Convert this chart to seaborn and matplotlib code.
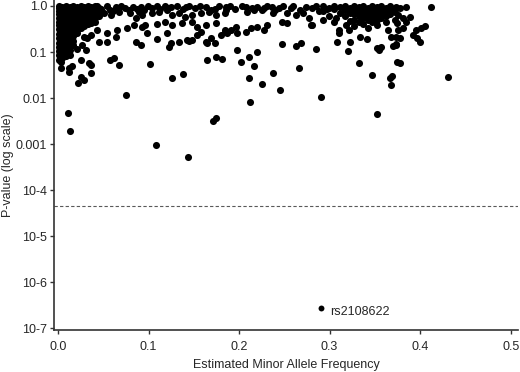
import numpy as np
import pandas as pd
import matplotlib
matplotlib.use('Agg')
import matplotlib.pyplot as plt
from matplotlib.ticker import FixedLocator, NullLocator
import seaborn as sns

# (minor allele frequency, p-value), grouped by region
low_maf_block = [
    (0.001, 1.0), (0.001, 0.9), (0.001, 0.78), (0.001, 0.66), (0.001, 0.55), (0.001, 0.46), (0.001, 0.38),
    (0.001, 0.31), (0.001, 0.25), (0.001, 0.2), (0.001, 0.16), (0.001, 0.13), (0.001, 0.105), (0.001, 0.085),
    (0.001, 0.067),
    (0.005, 0.97), (0.005, 0.84), (0.005, 0.71), (0.005, 0.6), (0.005, 0.5), (0.005, 0.42), (0.005, 0.34),
    (0.005, 0.28), (0.005, 0.22), (0.005, 0.18), (0.005, 0.145), (0.005, 0.115), (0.005, 0.092), (0.005, 0.075),
    (0.009, 1.0), (0.009, 0.88), (0.009, 0.75), (0.009, 0.63), (0.009, 0.53), (0.009, 0.44), (0.009, 0.36),
    (0.009, 0.29), (0.009, 0.24), (0.009, 0.19), (0.009, 0.15), (0.009, 0.12), (0.009, 0.098), (0.009, 0.08),
    (0.013, 0.95), (0.013, 0.8), (0.013, 0.68), (0.013, 0.57), (0.013, 0.47), (0.013, 0.39), (0.013, 0.32),
    (0.013, 0.26), (0.013, 0.21), (0.013, 0.17), (0.013, 0.135), (0.013, 0.11), (0.013, 0.088),
    (0.017, 1.0), (0.017, 0.86), (0.017, 0.72), (0.017, 0.6), (0.017, 0.5), (0.017, 0.41), (0.017, 0.33),
    (0.017, 0.27), (0.017, 0.22), (0.017, 0.175), (0.017, 0.14),
    (0.021, 0.93), (0.021, 0.79), (0.021, 0.66), (0.021, 0.55), (0.021, 0.45), (0.021, 0.37), (0.021, 0.3),
    (0.021, 0.26),
    (0.025, 1.0), (0.025, 0.85), (0.025, 0.7), (0.025, 0.58), (0.025, 0.48), (0.025, 0.4), (0.025, 0.33),
    (0.029, 0.95), (0.029, 0.8), (0.029, 0.66), (0.029, 0.54), (0.029, 0.44), (0.029, 0.36), (0.029, 0.21),
    (0.033, 1.0), (0.033, 0.87), (0.033, 0.72), (0.033, 0.6), (0.033, 0.5), (0.033, 0.4), (0.032, 0.2),
    (0.037, 0.93), (0.037, 0.78), (0.037, 0.64), (0.037, 0.52), (0.037, 0.42), (0.036, 0.23),
    (0.041, 1.0), (0.041, 0.85), (0.041, 0.7), (0.041, 0.56), (0.041, 0.45),
    (0.045, 0.92), (0.045, 0.78), (0.045, 0.62),
]

low_maf_tail = [
    (0.021, 0.116), (0.027, 0.14), (0.031, 0.11), (0.025, 0.067), (0.034, 0.058), (0.036, 0.052),
    (0.037, 0.035), (0.025, 0.029), (0.029, 0.025), (0.022, 0.021), (0.003, 0.061), (0.003, 0.045),
    (0.012, 0.045), (0.012, 0.037), (0.015, 0.05), (0.045, 0.165), (0.054, 0.165), (0.064, 0.21),
    (0.043, 0.30), (0.054, 0.26), (0.065, 0.30), (0.076, 0.33), (0.084, 0.39), (0.093, 0.35),
    (0.086, 0.165), (0.092, 0.14), (0.062, 0.074), (0.067, 0.052), (0.058, 0.067), (0.102, 0.056),
]

maf_05_10 = [
    (0.043, 1.0), (0.054, 1.0), (0.064, 0.95), (0.070, 1.0), (0.078, 0.82), (0.087, 0.86), (0.092, 0.95),
    (0.051, 0.70), (0.059, 0.64), (0.086, 0.55), (0.047, 0.85), (0.057, 0.82), (0.061, 0.78), (0.074, 0.9),
    (0.083, 0.95), (0.067, 0.74), (0.080, 0.70), (0.089, 0.74), (0.095, 0.82),
]

maf_10_19 = [
    (0.099, 1.0), (0.109, 1.0), (0.118, 1.0), (0.125, 0.95), (0.132, 1.0), (0.145, 1.0), (0.151, 0.9),
    (0.164, 0.95), (0.169, 0.82), (0.178, 1.0), (0.186, 0.95),
    (0.104, 0.92), (0.113, 0.86), (0.122, 0.9), (0.138, 0.86), (0.141, 0.95), (0.157, 1.0), (0.173, 0.88),
    (0.093, 0.64), (0.104, 0.70), (0.112, 0.74), (0.120, 0.82), (0.126, 0.64), (0.134, 0.70), (0.140, 0.58),
    (0.148, 0.64), (0.158, 0.70), (0.167, 0.74), (0.175, 0.64), (0.184, 0.70),
    (0.096, 0.39), (0.109, 0.41), (0.118, 0.45), (0.126, 0.39), (0.137, 0.43), (0.148, 0.45), (0.154, 0.35),
    (0.164, 0.39), (0.175, 0.43), (0.184, 0.30),
    (0.098, 0.26), (0.109, 0.19), (0.120, 0.26), (0.125, 0.155), (0.134, 0.165), (0.143, 0.18),
    (0.153, 0.23), (0.158, 0.27), (0.164, 0.165), (0.169, 0.20), (0.180, 0.23), (0.187, 0.27),
    (0.123, 0.13), (0.145, 0.175), (0.148, 0.18), (0.165, 0.155), (0.173, 0.155),
    (0.165, 0.067), (0.175, 0.078), (0.181, 0.07), (0.138, 0.033), (0.126, 0.027),
]

maf_19_29 = [
    (0.186, 0.82), (0.203, 1.0), (0.209, 0.74), (0.214, 0.9), (0.220, 0.95), (0.225, 0.82), (0.231, 1.0),
    (0.238, 0.70), (0.244, 0.9), (0.249, 1.0), (0.253, 0.70), (0.263, 0.64), (0.271, 0.70), (0.274, 0.95),
    (0.280, 0.9), (0.247, 0.45), (0.253, 0.43), (0.277, 0.55), (0.279, 0.39),
    (0.190, 1.0), (0.196, 0.86), (0.208, 0.97), (0.217, 0.8), (0.228, 0.9), (0.236, 0.95), (0.240, 0.8),
    (0.257, 0.9), (0.260, 1.0), (0.267, 0.82), (0.285, 1.0), (0.288, 0.78),
    (0.184, 0.27), (0.187, 0.26), (0.191, 0.30), (0.197, 0.35), (0.198, 0.26), (0.208, 0.27), (0.213, 0.33),
    (0.220, 0.35), (0.227, 0.30), (0.231, 0.39),
    (0.247, 0.15), (0.263, 0.135), (0.268, 0.155), (0.198, 0.11), (0.220, 0.10), (0.211, 0.078),
    (0.202, 0.061), (0.216, 0.05), (0.266, 0.045), (0.225, 0.020), (0.238, 0.035), (0.245, 0.015),
    (0.211, 0.027), (0.285, 0.116),
]

maf_29_38 = [
    (0.293, 1.0), (0.293, 0.78), (0.297, 0.86), (0.299, 0.92), (0.299, 0.62), (0.305, 1.0), (0.305, 0.84),
    (0.305, 0.45), (0.311, 0.95), (0.311, 0.7), (0.317, 1.0), (0.317, 0.8), (0.317, 0.6), (0.322, 0.9),
    (0.322, 0.72), (0.322, 0.48), (0.327, 1.0), (0.327, 0.82), (0.327, 0.66), (0.327, 0.5), (0.327, 0.36),
    (0.332, 0.95), (0.332, 0.76), (0.332, 0.6), (0.332, 0.44), (0.337, 1.0), (0.337, 0.86), (0.337, 0.7),
    (0.337, 0.55), (0.337, 0.4), (0.342, 0.92), (0.342, 0.78), (0.342, 0.63), (0.342, 0.5), (0.342, 0.33),
    (0.347, 1.0), (0.347, 0.84), (0.347, 0.68), (0.347, 0.55), (0.347, 0.45), (0.352, 0.94), (0.352, 0.78),
    (0.352, 0.62), (0.352, 0.5), (0.352, 0.38), (0.357, 1.0), (0.357, 0.86), (0.357, 0.7), (0.357, 0.56),
    (0.362, 0.92), (0.362, 0.76), (0.362, 0.6), (0.362, 0.45), (0.367, 1.0), (0.367, 0.82), (0.367, 0.66),
    (0.372, 0.9), (0.372, 0.74), (0.372, 0.5),
    (0.280, 0.39), (0.293, 0.50), (0.307, 0.55), (0.310, 0.30), (0.310, 0.26), (0.308, 0.165),
    (0.318, 0.39), (0.321, 0.30), (0.323, 0.165), (0.320, 0.105), (0.332, 0.058), (0.334, 0.21),
    (0.341, 0.19), (0.352, 0.12), (0.355, 0.11), (0.357, 0.13), (0.365, 0.30), (0.368, 0.21),
    (0.370, 0.135), (0.373, 0.15), (0.374, 0.061), (0.378, 0.058), (0.347, 0.032), (0.367, 0.027),
    (0.369, 0.030), (0.368, 0.019),
]

maf_38_up = [
    (0.373, 0.95), (0.378, 0.9), (0.384, 0.95), (0.376, 0.64), (0.381, 0.55), (0.389, 0.58),
    (0.374, 0.43), (0.384, 0.45), (0.376, 0.30), (0.381, 0.33), (0.373, 0.21), (0.378, 0.20),
    (0.405, 0.37), (0.401, 0.33), (0.395, 0.30), (0.392, 0.235), (0.396, 0.20), (0.400, 0.165),
    (0.373, 0.14),
]

outliers = [
    (0.075, 0.0117), (0.011, 0.0047), (0.013, 0.0019), (0.108, 0.00095), (0.144, 0.00052),
    (0.171, 0.0031), (0.174, 0.0036), (0.212, 0.0082), (0.352, 0.0045), (0.290, 0.0105),
    (0.431, 0.029), (0.412, 0.95),
]

hit_maf = 0.29
hit_p = 2.7e-7
hit_label = 'rs2108622'
threshold = 4.5e-5

y_ticks = [1.0, 0.1, 0.01, 0.001, 1e-4, 1e-5, 1e-6, 1e-7]
y_tick_labels = ['1.0', '0.1', '0.01', '0.001', '10-4', '10-5', '10-6', '10-7']
x_ticks = [0.0, 0.1, 0.2, 0.3, 0.4, 0.5]
x_tick_labels = ['0.0', '0.1', '0.2', '0.3', '0.4', '0.5']

all_points = (low_maf_block + low_maf_tail + maf_05_10 + maf_10_19 + maf_19_29
              + maf_29_38 + maf_38_up + outliers)
df = pd.DataFrame(all_points, columns=['maf', 'pval'])
hit = pd.DataFrame({'maf': [hit_maf], 'pval': [hit_p]})

sns.set_style('ticks')
plt.rcParams['font.family'] = ['Liberation Sans', 'DejaVu Sans']

fig = plt.figure(figsize=(5.2, 3.72), dpi=100)
ax = fig.add_axes([0.1038, 0.1129, 0.8923, 0.8871])

sns.scatterplot(data=df, x='maf', y='pval', color='black', s=26, linewidth=0, ax=ax, legend=False)
sns.scatterplot(data=hit, x='maf', y='pval', color='black', s=18, linewidth=0, ax=ax, legend=False)

ax.set_yscale('log')
ax.set_ylim(10 ** -7.04, 10 ** 0.13)
ax.set_xlim(-0.0044, 0.508)

ax.axhline(threshold, color='0.35', lw=0.8, ls=(0, (3, 2)))
ax.annotate(hit_label, (hit_maf, hit_p), xytext=(7, -3), textcoords='offset points',
            ha='left', va='center', fontsize=9)

ax.yaxis.set_major_locator(FixedLocator(y_ticks))
ax.yaxis.set_minor_locator(NullLocator())
ax.set_yticklabels(y_tick_labels)
ax.set_xticks(x_ticks)
ax.set_xticklabels(x_tick_labels)

ax.tick_params(axis='y', length=3, width=1, pad=2, labelsize=9, color='#333333')
ax.tick_params(axis='x', length=3, width=1, pad=5, labelsize=9, color='#333333')
ax.set_xlabel('Estimated Minor Allele Frequency', fontsize=9, labelpad=4)
ax.set_ylabel('P-value (log scale)', fontsize=9, labelpad=1)

sns.despine(ax=ax)
for side in ['left', 'bottom']:
    ax.spines[side].set_color('#333333')
    ax.spines[side].set_linewidth(1.2)

fig.savefig('out.png', dpi=100)
